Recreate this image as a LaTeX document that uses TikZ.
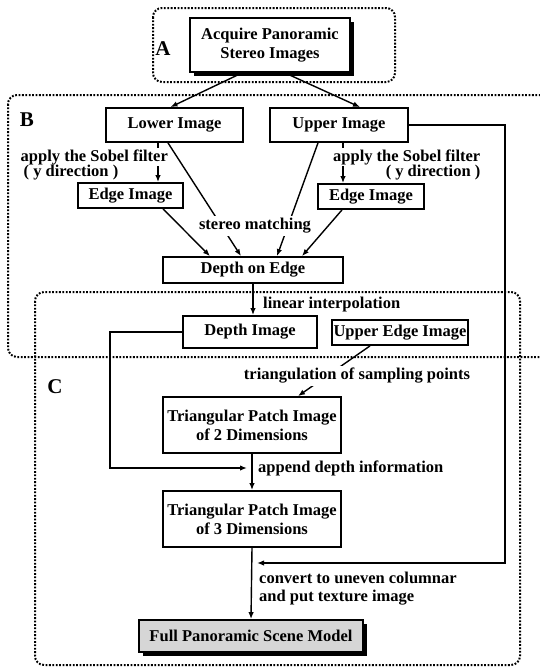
\documentclass[tikz,border=0pt]{standalone}
\usepackage{fontspec}
\setmainfont{Liberation Serif}
\usetikzlibrary{arrows.meta,calc,shadows}
\begin{document}
\begin{tikzpicture}[x=1pt,y=-1pt,
  font=\bfseries\fontsize{16.5}{19}\selectfont,
  box/.style={draw,line width=1.8pt,fill=white,inner sep=0pt,align=center},
  shadowed/.style={general shadow={fill=black,shadow xshift=4pt,shadow yshift=-4pt}},
  region/.style={draw,line width=2pt,dash pattern=on 1.8pt off 1.6pt,rounded corners=9pt},
  arr/.style={line width=1.4pt,-{Latex[length=7pt,width=5.5pt]}},
  lbl/.style={fill=white,inner sep=1.5pt},
  tag/.style={font=\bfseries\fontsize{21}{24}\selectfont},
]
\useasboundingbox (0,0) rectangle (540,667);

% dotted stage regions
\begin{scope}
  \clip (0,0) rectangle (540,667);
  \draw[region] (153,8) rectangle (395,82);
  \draw[region] (8,95) rectangle (565,357);
  \draw[region] (35,292) rectangle (520,665);
\end{scope}
\node[tag] (tagA) at (163,49) {A};
\node[tag] (tagB) at (27,120) {B};
\node[tag] (tagC) at (55,387) {C};

% process boxes
\node[box,shadowed,minimum width=160,minimum height=54] (acq) at (270,45) {Acquire Panoramic\\Stereo Images};
\node[box,minimum width=137,minimum height=34] (lower) at (174.5,125) {Lower Image};
\node[box,minimum width=138,minimum height=34] (upper) at (339,125) {Upper Image};
\node[box,minimum width=105,minimum height=25] (edgeL) at (130.5,195.5) {Edge Image};
\node[box,minimum width=106,minimum height=25] (edgeR) at (371,196.5) {Edge Image};
\node[box,minimum width=180,minimum height=26] (doe) at (253,270) {Depth on Edge};
\node[box,minimum width=134,minimum height=32] (dimg) at (250,332) {Depth Image};
\node[box,minimum width=136,minimum height=25] (uei) at (400,332.5) {Upper Edge Image};
\node[box,minimum width=178,minimum height=56] (tri2) at (252,425) {Triangular Patch Image\\of 2 Dimensions};
\node[box,minimum width=178,minimum height=56] (tri3) at (252,519) {Triangular Patch Image\\of 3 Dimensions};
\node[box,shadowed,fill=black!16,minimum width=224,minimum height=32] (full) at (251,636) {Full Panoramic Scene Model};

% stage A -> B
\draw[arr] ($(acq.south)+(-28,0)$) -- ($(lower.north)+(-4,0)$);
\draw[arr] ($(acq.south)+(15,0)$) -- ($(upper.north)+(21,0)$);

% edge detection
\draw[arr] ($(lower.south)+(-16.5,0)$) coordinate (sl) -- (sl |- edgeL.north);
\draw[arr] ($(upper.south)+(4,0)$) coordinate (sr) -- (sr |- edgeR.north);
\node[lbl,anchor=west] (sobL) at (19,157) {apply the Sobel filter};
\node[anchor=west,inner sep=1.5pt] (dirL) at (22,173) {( y direction )};
\node[lbl,anchor=east] (sobR) at (482,157) {apply the Sobel filter};
\node[anchor=east,inner sep=1.5pt] (dirR) at (482,173) {( y direction )};

% stereo matching
\draw[arr] ($(lower.south)+(-6.5,0)$) -- ($(doe.north)+(-12,0)$);
\draw[arr] ($(upper.south)+(-21,0)$) -- ($(doe.north)+(24,0)$);
\node[lbl,inner sep=2pt] (sm) at (255,226) {stereo matching};
\draw[arr] ($(edgeL.south)+(32.5,0)$) -- ($(doe.north)+(-43,0)$);
\draw[arr] ($(edgeR.south)+(-29,0)$) -- ($(doe.north)+(49,0)$);

% stage C
\draw[arr] (doe.south) -- (doe.south |- dimg.north);
\node[anchor=west,inner sep=0pt] (li) at (263,305) {linear interpolation};

\draw[arr] ($(uei.south)+(-30,0)$) -- ($(tri2.north)+(46,0)$);
\node[lbl,inner sep=2pt] (tri) at (357,376) {triangulation of sampling points};

\coordinate (lturn) at (110,468);
\coordinate (app) at (247,468);
\draw[arr] (dimg.west) -| (lturn) -- (app);
\node[anchor=west,inner sep=0pt] (adi) at (258,468) {append depth information};

\draw[arr] (tri2.south) -- (tri3.north);
\draw[arr] (tri3.south) -- (full.north);

\coordinate (rturn) at (505,563);
\coordinate (cvt) at (257,563);
\draw[arr] (upper.east) -| (rturn) -- (cvt);
\node[anchor=west,align=left,inner sep=0pt,font=\bfseries\fontsize{16.5}{18}\selectfont] (conv) at (259,589) {convert to uneven columnar\\and put texture image};
\end{tikzpicture}
\end{document}
